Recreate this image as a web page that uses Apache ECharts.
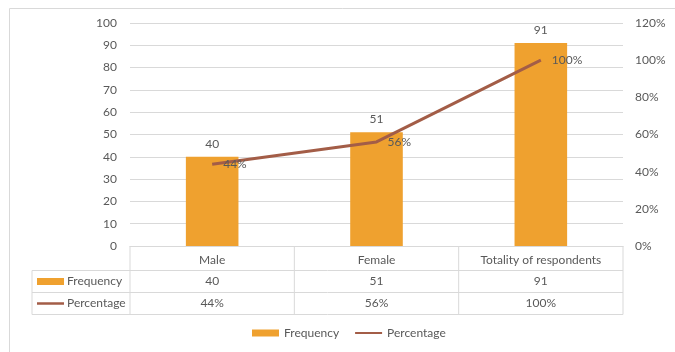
<!DOCTYPE html>
<html><head><meta charset="utf-8">
<script src="https://cdn.jsdelivr.net/npm/echarts@6/dist/echarts.min.js"></script>
<style>html,body{margin:0;padding:0;background:#fff}#c{width:675px;height:352px}</style>
</head><body><div id="c"></div>
<script>
const categories = ['Male', 'Female', 'Totality of respondents'];
const frequency = [40, 51, 91];
const percentage = [0.44, 0.56, 1.00];
const seriesNames = ['Frequency', 'Percentage'];

const FONT = 'Lato';
const TXT = '#595959';
const BAR = '#EFA12F';
const LINE = '#A35D47';
const GRID = '#D9D9D9';
const pct = v => Math.round(v * 100) + '%';

const chart = echarts.init(document.getElementById('c'), null, {renderer: 'canvas'});
const option = {
  animation: false,
  textStyle: {fontFamily: FONT, color: TXT, fontSize: 12},
  grid: {left: 130, right: 52, top: 23, bottom: 106, containLabel: false},
  legend: {
    bottom: 8, left: 247, itemWidth: 27, itemHeight: 7, itemGap: 15,
    textStyle: {fontFamily: FONT, color: TXT, fontSize: 12},
    data: [{name: seriesNames[0], icon: 'rect'}, {name: seriesNames[1]}]
  },
  xAxis: {
    type: 'category', data: categories,
    axisLine: {lineStyle: {color: GRID}}, axisTick: {show: false},
    axisLabel: {color: TXT, fontFamily: FONT, fontSize: 12, margin: 8, interval: 0}
  },
  yAxis: [{
    type: 'value', min: 0, max: 100, interval: 10,
    axisLine: {show: false}, axisTick: {show: false},
    axisLabel: {color: TXT, fontFamily: FONT, fontSize: 12, margin: 13},
    splitLine: {lineStyle: {color: GRID}}
  }, {
    type: 'value', min: 0, max: 1.2, interval: 0.2, position: 'right',
    axisLine: {show: false}, axisTick: {show: false},
    axisLabel: {color: TXT, fontFamily: FONT, fontSize: 12, margin: 12, formatter: v => pct(v)},
    splitLine: {show: false}
  }],
  series: [{
    name: seriesNames[0], type: 'bar', data: frequency, barWidth: '32%',
    itemStyle: {color: BAR},
    label: {show: true, position: 'top', distance: 7, color: TXT, fontFamily: FONT, fontSize: 12}
  }, {
    name: seriesNames[1], type: 'line', yAxisIndex: 1, data: percentage,
    symbol: 'circle', symbolSize: 2, showSymbol: true,
    lineStyle: {color: LINE, width: 3}, itemStyle: {color: 'rgba(0,0,0,0)', borderWidth: 0},
    label: {show: true, position: 'right', distance: 10, offset: [0, 2], color: TXT, fontFamily: FONT, fontSize: 12,
      formatter: p => pct(p.value)},
    labelLayout: {hideOverlap: false}
  }]
};
chart.setOption(option);

// data table below the plot
const centers = categories.map(c => chart.convertToPixel({xAxisIndex: 0}, c));
const band = centers.length > 1 ? centers[1] - centers[0] : 160;
const x0 = centers[0] - band / 2;
const xEnd = centers[centers.length - 1] + band / 2;
const yTop = chart.convertToPixel({yAxisIndex: 0}, 0);
const rows = [yTop, yTop + 24.5, yTop + 46.5, yTop + 68.5];
const tableLeft = 32;
const g = [];
const ln = (x1, y1, x2, y2) => g.push({type: 'line', silent: true,
  shape: {x1, y1, x2, y2}, style: {stroke: GRID, lineWidth: 1}});
// outer frame
g.push({type: 'rect', silent: true, shape: {x: 9.5, y: 8.5, width: 700, height: 400},
  style: {fill: null, stroke: GRID, lineWidth: 1}});
for (let i = 1; i < rows.length; i++) ln(tableLeft, rows[i], xEnd, rows[i]);
ln(tableLeft, rows[1], tableLeft, rows[3]);
for (let i = 0; i <= categories.length; i++) ln(x0 + i * band, rows[0], x0 + i * band, rows[3]);
const rowVals = [frequency.map(String), percentage.map(pct)];
rowVals.forEach((vals, r) => {
  const cy = (rows[r + 1] + rows[r + 2]) / 2;
  vals.forEach((v, i) => g.push({type: 'text', silent: true,
    style: {text: v, x: centers[i], y: cy, align: 'center', verticalAlign: 'middle',
      fill: TXT, font: '12px ' + FONT}}));
  if (r === 0) g.push({type: 'rect', silent: true, shape: {x: 37, y: cy - 3.5, width: 27, height: 7}, style: {fill: BAR}});
  else g.push({type: 'line', silent: true, shape: {x1: 37, y1: cy, x2: 64, y2: cy}, style: {stroke: LINE, lineWidth: 2.5}});
  g.push({type: 'text', silent: true,
    style: {text: seriesNames[r], x: 67, y: cy, align: 'left', verticalAlign: 'middle', fill: TXT, font: '12px ' + FONT}});
});
chart.setOption({graphic: g});
</script></body></html>
